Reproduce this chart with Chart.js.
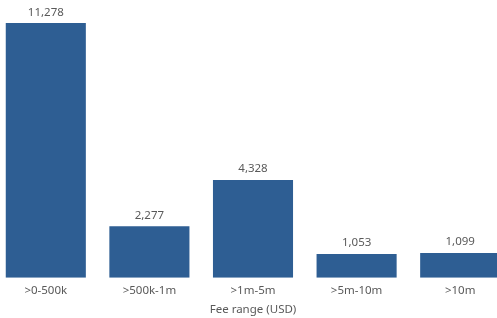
<!DOCTYPE html>
<html>
<head>
<meta charset="utf-8">
<script src="https://cdn.jsdelivr.net/npm/chart.js@4/dist/chart.umd.min.js"></script>
<style>
	html, body { margin: 0; padding: 0; background: #fff; overflow: hidden; }
	#wrap { width: 518px; height: 318px; margin-left: -6px; }
</style>
</head>
<body>
<div id="wrap"><canvas id="feeChart"></canvas></div>
<script>
const feeRanges = [">0-500k", ">500k-1m", ">1m-5m", ">5m-10m", ">10m"];
const dealCounts = [11278, 2277, 4328, 1053, 1099];
const axisTitle = "Fee range (USD)";

const textColor = "#595959";
const barColor = "#2e5e93";

// draws the value above each bar
const valueLabels = {
	id: 'valueLabels',
	afterDatasetsDraw(chart) {
		const ctx = chart.ctx;
		const meta = chart.getDatasetMeta(0);
		ctx.save();
		ctx.font = "11.5px 'Noto Sans'";
		ctx.fillStyle = textColor;
		ctx.textAlign = 'center';
		ctx.textBaseline = 'bottom';
		meta.data.forEach((bar, i) => {
			ctx.fillText(dealCounts[i].toLocaleString('en-US'), bar.x, bar.y - 5);
		});
		ctx.restore();
	}
};

window.addEventListener('DOMContentLoaded', () => {
	const feeChart = document.getElementById("feeChart");

	new Chart(feeChart, {
		type: 'bar',
		data: {
			labels: feeRanges,
			datasets: [{
				label: 'Deals',
				data: dealCounts,
				backgroundColor: barColor,
				categoryPercentage: 1,
				barPercentage: 0.773
			}]
		},
		options: {
			responsive: true,
			maintainAspectRatio: false,
			animation: false,
			layout: {
				padding: { top: 23, left: 0, right: 0, bottom: 0 }
			},
			plugins: {
				legend: { display: false },
				tooltip: { enabled: false }
			},
			scales: {
				x: {
					grid: { display: false, drawTicks: false },
					border: { display: false },
					ticks: {
						color: textColor,
						padding: 7,
						font: { family: "'Noto Sans'", size: 11.5, lineHeight: 1 }
					},
					title: {
						display: true,
						text: axisTitle,
						color: textColor,
						padding: { top: 0, bottom: 1 },
						font: { family: "'Noto Sans'", size: 11.5 }
					}
				},
				y: {
					display: false,
					min: 0,
					max: 11278
				}
			}
		},
		plugins: [valueLabels]
	});
});
</script>
</body>
</html>
